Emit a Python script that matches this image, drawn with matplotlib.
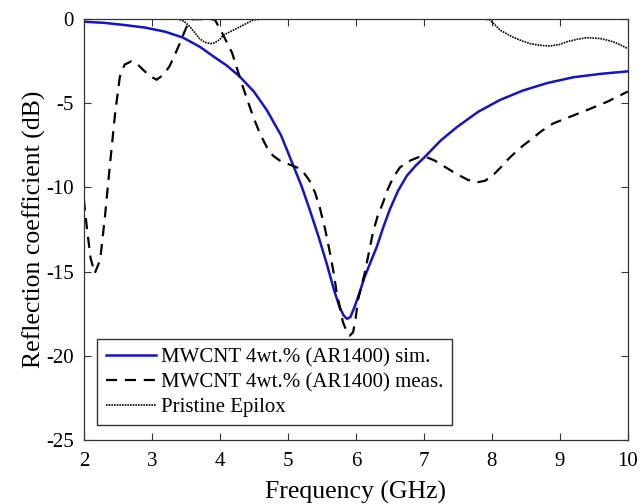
import matplotlib.pyplot as plt

# simulated MWCNT 4wt.% (AR1400)
f_sim = [2.0, 2.3, 2.6, 2.9, 3.2, 3.46, 3.71, 3.9, 4.1, 4.29, 4.5, 4.69, 4.9, 5.07, 5.2,
         5.32, 5.45, 5.57, 5.68, 5.76, 5.82, 5.87, 5.92, 5.98, 6.05, 6.13, 6.22, 6.31,
         6.4, 6.5, 6.62, 6.75, 6.88, 7.01, 7.25, 7.49, 7.8, 8.12, 8.45, 8.81, 9.2, 9.6,
         10.0]
s_sim = [-0.15, -0.22, -0.35, -0.5, -0.75, -1.1, -1.65, -2.2, -2.75, -3.4, -4.3, -5.4,
         -6.9, -8.6, -9.9, -11.3, -12.9, -14.5, -16.1, -17.1, -17.6, -17.8, -17.7, -17.1,
         -16.3, -15.3, -14.4, -13.5, -12.4, -11.3, -10.2, -9.3, -8.7, -8.2, -7.2, -6.4,
         -5.5, -4.8, -4.25, -3.8, -3.45, -3.25, -3.1]

# measured MWCNT 4wt.% (AR1400)
f_meas = [2.0, 2.05, 2.1, 2.16, 2.24, 2.31, 2.38, 2.46, 2.53, 2.6, 2.7, 2.78, 2.87,
          2.96, 3.07, 3.17, 3.26, 3.34, 3.41, 3.48, 3.54, 3.6, 3.75, 3.88, 3.93, 4.05,
          4.18, 4.32, 4.49, 4.59, 4.69, 4.78, 4.88, 5.0, 5.13, 5.23, 5.32, 5.4, 5.47,
          5.55, 5.62, 5.68, 5.72, 5.77, 5.81, 5.86, 5.91, 5.96, 6.0, 6.03, 6.08, 6.13,
          6.19, 6.25, 6.32, 6.4, 6.47, 6.55, 6.65, 6.8, 6.92, 7.04, 7.16, 7.28, 7.4,
          7.53, 7.65, 7.78, 7.9, 8.01, 8.12, 8.22, 8.4, 8.56, 8.73, 8.9, 9.15, 9.4, 9.7,
          10.0]
s_meas = [-10.7, -12.6, -14.2, -15.1, -14.3, -11.75, -8.8, -5.6, -3.4, -2.7, -2.5,
          -2.65, -3.0, -3.35, -3.6, -3.3, -2.8, -2.1, -1.45, -0.75, -0.2, 0.0, 0.0, 0.0,
          -0.05, -0.95, -2.0, -3.8, -5.8, -6.8, -7.6, -8.1, -8.4, -8.6, -8.8, -9.1, -9.6,
          -10.3, -11.2, -12.5, -13.9, -15.2, -16.3, -17.2, -18.0, -18.5, -18.8, -18.6,
          -17.7, -16.7, -15.9, -15.1, -13.9, -12.7, -11.7, -10.9, -10.1, -9.4, -8.8, -8.4,
          -8.2, -8.2, -8.4, -8.7, -9.0, -9.3, -9.55, -9.7, -9.6, -9.3, -8.85, -8.4, -7.7,
          -7.2, -6.65, -6.2, -5.8, -5.4, -4.9, -4.3]

# pristine Epilox
f_epi = [2.0, 3.4, 3.48, 3.56, 3.63, 3.7, 3.78, 3.86, 3.93, 4.0, 4.05, 4.15, 4.25, 4.37,
         4.49, 4.6, 7.9, 7.97, 8.05, 8.12, 8.3, 8.45, 8.56, 8.7, 8.85, 9.0, 9.1, 9.25,
         9.4, 9.59, 9.7, 9.79, 9.9, 10.0]
s_epi = [0.0, 0.0, -0.15, -0.45, -0.8, -1.15, -1.38, -1.45, -1.4, -1.2, -0.95, -0.75,
         -0.55, -0.3, -0.05, 0.0, 0.0, -0.05, -0.35, -0.65, -1.05, -1.3, -1.45, -1.55,
         -1.6, -1.5, -1.35, -1.2, -1.1, -1.15, -1.25, -1.35, -1.55, -1.75]

plt.rcParams['font.family'] = ['Liberation Serif', 'DejaVu Serif']
plt.rcParams['axes.unicode_minus'] = False

fig = plt.figure(figsize=(6.4, 5.04), dpi=100)
ax = fig.add_axes([0.131, 0.127, 0.85, 0.835])

ax.plot(f_sim, s_sim, color='#1414c8', lw=1.8, label='MWCNT 4wt.% (AR1400) sim.')
ax.plot(f_meas, s_meas, color='black', lw=1.6, dashes=(5, 3.5),
        label='MWCNT 4wt.% (AR1400) meas.')
ax.plot(f_epi, s_epi, color='black', lw=1.2, dashes=(1, 0.6), label='Pristine Epilox')

ax.set_xlim(2, 10)
ax.set_ylim(-25, 0)
ax.set_xticks(range(2, 11))
ax.set_yticks(range(-25, 1, 5))
ax.tick_params(axis='both', direction='in', length=5, width=0.8, labelsize=15,
               top=True, right=True, colors='#333333', labelcolor='black')
ax.tick_params(axis='x', pad=9)
ax.tick_params(axis='y', pad=7)
for sp in ax.spines.values():
    sp.set_color('#333333')
    sp.set_linewidth(0.9)

ax.set_xlabel('Frequency (GHz)', fontsize=18.5, labelpad=7)
ax.set_ylabel('Reflection coefficient (dB)', fontsize=18.5, labelpad=0.5)

leg = ax.legend(loc='lower left', bbox_to_anchor=(0.025, 0.035), fontsize=15,
                fancybox=False, framealpha=1, edgecolor='#333333',
                handlelength=2.4, handletextpad=0.25, borderpad=0.4,
                labelspacing=0.25, borderaxespad=0)
leg.get_frame().set_linewidth(1.0)

fig.savefig('out.png', dpi=100)
